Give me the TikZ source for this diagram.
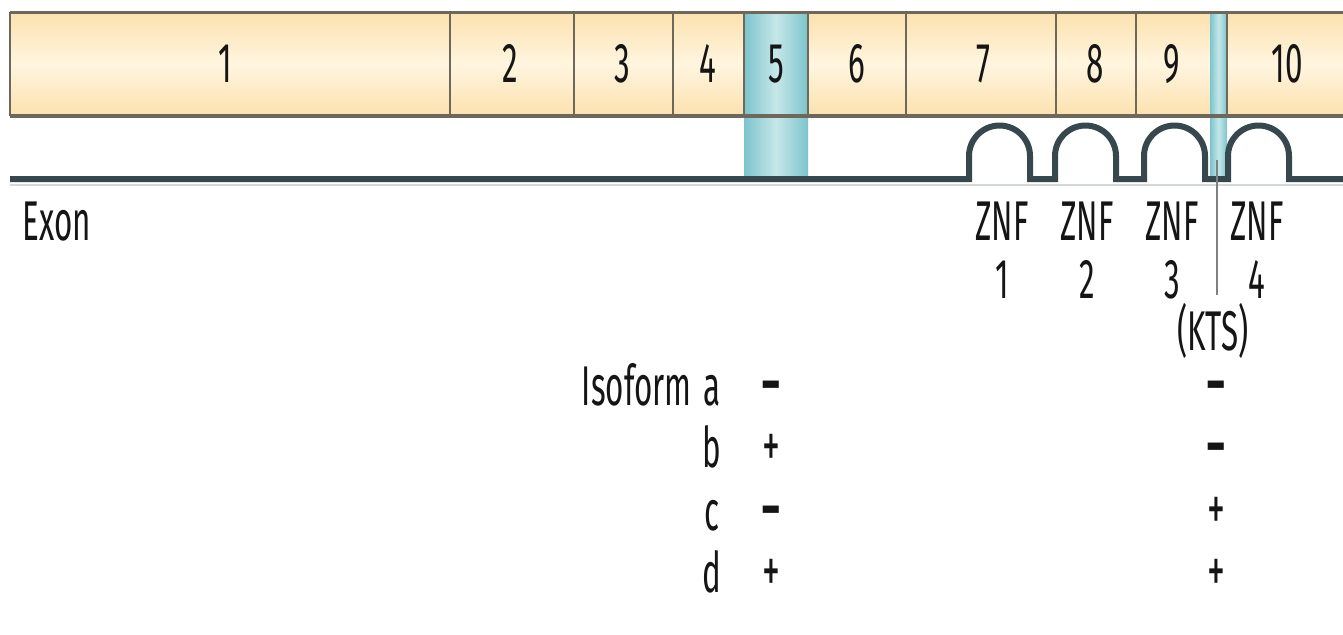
\documentclass[tikz,border=0pt]{standalone}
\usepackage{fontspec}
\setmainfont{Fira Sans}[FakeStretch=0.56]
\definecolor{peachD}{HTML}{FCE1AE}
\definecolor{peachL}{HTML}{FFF5E0}
\definecolor{tealD}{HTML}{7CC4CC}
\definecolor{tealL}{HTML}{C6E7E9}
\definecolor{barline}{HTML}{6E675C}
\definecolor{bbcol}{HTML}{36474E}
\definecolor{shadowcol}{HTML}{D4D8D8}
\definecolor{txtcol}{HTML}{151515}
\begin{document}
\begin{tikzpicture}[x=0.5pt,y=-0.5pt,
  txt/.style={font=\fontsize{28}{30}\selectfont, text=txtcol, inner sep=0pt, anchor=base},
  plussign/.style={font=\fontsize{32}{32}\selectfont, text=txtcol, inner sep=0pt, anchor=base},
  minussign/.style={font=\fontsize{30}{30}\selectfont\bfseries, text=txtcol, inner sep=0pt, anchor=base},
  divider/.style={draw=barline, line width=0.8pt},
  border/.style={draw=barline, line width=1.8pt},
  bb/.style={draw=bbcol, line width=3pt},
  ktsline/.style={draw=gray, line width=0.75pt}]
\useasboundingbox (0,0) rectangle (1343,634);
\fill[white] (0,0) rectangle (1343,634);
% exon bar
\shade[top color=peachD, bottom color=peachD, middle color=peachL] (10,12) rectangle (1343,116);
% teal highlights
\shade[left color=tealD, right color=tealD, middle color=tealL] (744,12) rectangle (808,176);
\shade[left color=tealD, right color=tealD, middle color=tealL] (1210,12) rectangle (1227,176);
% dividers
\foreach \x in {10,450,574,673,744,808,906,1056,1136,1227}
  \draw[divider] (\x,12) -- (\x,116);
\draw[border] (10,12.5) -- (1343,12.5);
\draw[border] (10,116) -- (1343,116);
% exon numbers
\node[txt] (e1) at (225,82) {1};
\node[txt] (e2) at (510,82) {2};
\node[txt] (e3) at (622,82) {3};
\node[txt] (e4) at (708,82) {4};
\node[txt] (e5) at (776,82) {5};
\node[txt] (e6) at (857,82) {6};
\node[txt] (e7) at (983,82) {7};
\node[txt] (e8) at (1095,82) {8};
\node[txt] (e9) at (1172,82) {9};
\node[txt] (e10) at (1287,82) {10};
% backbone shadow
\draw[shadowcol, line width=1pt] (10,184.5) -- (1343,184.5);
% backbone with zinc fingers
\draw[bb] (10,179) -- (969,179) -- (969,156) arc[start angle=180,end angle=360,radius=30.5]
  -- (1030,179) -- (1055,179) -- (1055,156) arc[start angle=180,end angle=360,radius=30.5]
  -- (1116,179) -- (1144,179) -- (1144,156) arc[start angle=180,end angle=360,radius=30.5]
  -- (1205,179) -- (1228,179) -- (1228,156) arc[start angle=180,end angle=360,radius=30.5]
  -- (1289,179) -- (1343,179);
% KTS marker line
\coordinate (k1) at (1217,160);
\coordinate (k2) at (1217,295);
\draw[ktsline] (k1) -- (k2);
% labels
\node[txt, anchor=base west] (exon) at (22,240) {Exon};
\node[txt] (z1) at (1002,240) {ZNF};
\node[txt] (z2) at (1087,240) {ZNF};
\node[txt] (z3) at (1172,240) {ZNF};
\node[txt] (z4) at (1257,240) {ZNF};
\node[txt] (n1) at (1002,298) {1};
\node[txt] (n2) at (1087,298) {2};
\node[txt] (n3) at (1172,298) {3};
\node[txt] (n4) at (1257,298) {4};
\node[txt] (kts) at (1213,350) {(KTS)};
% isoform table
\node[txt, anchor=base east] (iso) at (692,405) {Isoform};
\node[txt] (ia) at (712,405) {a};
\node[txt] (ib) at (712,467) {b};
\node[txt] (ic) at (712,530) {c};
\node[txt] (id) at (712,592) {d};
\node[minussign] (a5) at (771,403) {–};
\node[plussign] (b5) at (771,467) {+};
\node[minussign] (c5) at (771,528) {–};
\node[plussign] (d5) at (771,592) {+};
\node[minussign] (ak) at (1216,403) {–};
\node[minussign] (bk) at (1216,465) {–};
\node[plussign] (ck) at (1216,530) {+};
\node[plussign] (dk) at (1216,592) {+};
\end{tikzpicture}
\end{document}
